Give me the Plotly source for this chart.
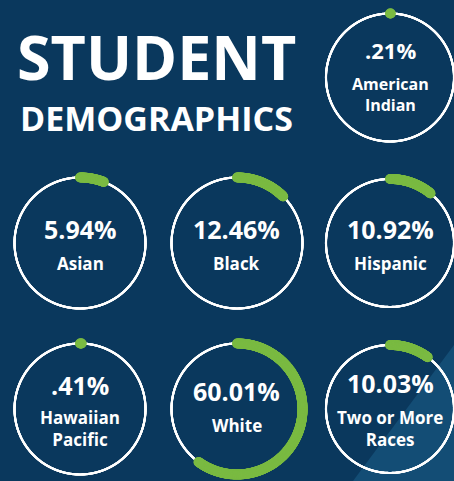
import numpy as np
import plotly.graph_objects as go

# ---- data ----
categories = ["American Indian", "Asian", "Black", "Hispanic",
              "Hawaiian Pacific", "White", "Two or More Races"]
label_lines = [["American", "Indian"], ["Asian"], ["Black"], ["Hispanic"],
               ["Hawaiian", "Pacific"], ["White"], ["Two or More", "Races"]]
values = [0.21, 5.94, 12.46, 10.92, 0.41, 60.01, 10.03]
title_lines = ["STUDENT", "DEMOGRAPHICS"]

# ---- layout / style ----
W, H = 454, 481
BG = "#0a385d"
TRI = "#134d75"
GREEN = "#7aba42"
centers = [(390, 77.5), (80, 243), (237, 243), (390, 243),
           (80, 409), (237, 409), (390, 409)]
radii = [64, 65.5, 65.5, 64, 65.5, 65.5, 64]
pct_dy = [-27, -14, -14, -14, -24, -18, -26.5]
lab_dy = [16.5, 20, 20, 20, 19.5, 16, 19.5]   # centre of the label block
pct_size = [22, 25, 25, 25, 25, 25, 25]
lab_size = [16, 17, 17, 17, 17, 17, 17]
FONT = "Open Sans"

fig = go.Figure()
layout_polars = {}
annotations = []

def px_x(x):
    return x / W

def px_y(y):
    return 1 - y / H

for i, (cat, v) in enumerate(zip(categories, values)):
    cx, cy = centers[i]
    D = radii[i]
    key = "polar" if i == 0 else f"polar{i+1}"
    layout_polars[key] = dict(
        domain=dict(x=[px_x(cx - D), px_x(cx + D)],
                    y=[px_y(cy + D), px_y(cy - D)]),
        bgcolor="rgba(0,0,0,0)",
        radialaxis=dict(visible=False, range=[0, 1]),
        angularaxis=dict(visible=False, rotation=90, direction="clockwise"),
    )
    # white ring (dense markers so that it is not clipped by the polar area)
    full = np.arange(0, 360, 0.25).tolist()
    fig.add_trace(go.Scatterpolar(
        r=[1] * len(full), theta=full, mode="markers",
        marker=dict(color="white", size=2.2, line=dict(width=0)), subplot=key,
        cliponaxis=False, hoverinfo="skip", showlegend=False))
    # green value arc with round ends
    end = v / 100 * 360
    n = max(2, int(end / 0.4) + 2)
    th = np.linspace(0, end, n).tolist()
    fig.add_trace(go.Scatterpolar(
        r=[1] * len(th), theta=th, mode="markers",
        marker=dict(color=GREEN, size=10, line=dict(width=0)), subplot=key,
        cliponaxis=False, name=cat, showlegend=False,
        hovertemplate=f"{cat}: {v}%<extra></extra>"))

    pct = f"{v:.2f}%"
    if pct.startswith("0"):
        pct = pct[1:]
    annotations.append(dict(
        x=px_x(cx), y=px_y(cy + pct_dy[i]), xref="paper", yref="paper",
        text=pct, showarrow=False, xanchor="center", yanchor="middle",
        font=dict(family=FONT, size=pct_size[i], color="white", weight=700)))
    annotations.append(dict(
        x=px_x(cx), y=px_y(cy + lab_dy[i]), xref="paper", yref="paper",
        text="<br>".join(label_lines[i]), showarrow=False,
        xanchor="center", yanchor="middle", align="center",
        font=dict(family=FONT, size=lab_size[i], color="white", weight=700)))

annotations.append(dict(
    x=px_x(156), y=px_y(56.5), xref="paper", yref="paper", text=title_lines[0],
    showarrow=False, xanchor="center", yanchor="middle",
    font=dict(family=FONT, size=61, color="white", weight=700)))
annotations.append(dict(
    x=px_x(156), y=px_y(117.5), xref="paper", yref="paper", text=title_lines[1],
    showarrow=False, xanchor="center", yanchor="middle",
    font=dict(family=FONT, size=34, color="white", weight=700)))

fig.update_layout(
    width=W, height=H,
    margin=dict(l=0, r=0, t=0, b=0),
    paper_bgcolor=BG, plot_bgcolor=BG,
    annotations=annotations,
    shapes=[dict(type="path", xref="paper", yref="paper", layer="below",
                 path=f"M 1 {px_y(345)} L 1 0 L {px_x(353)} 0 Z",
                 fillcolor=TRI, line=dict(width=0))],
    **layout_polars,
)

fig.write_html("out.html", config=dict(displayModeBar=False),
               post_script="document.body.style.margin='0';document.body.style.overflow='hidden';")
